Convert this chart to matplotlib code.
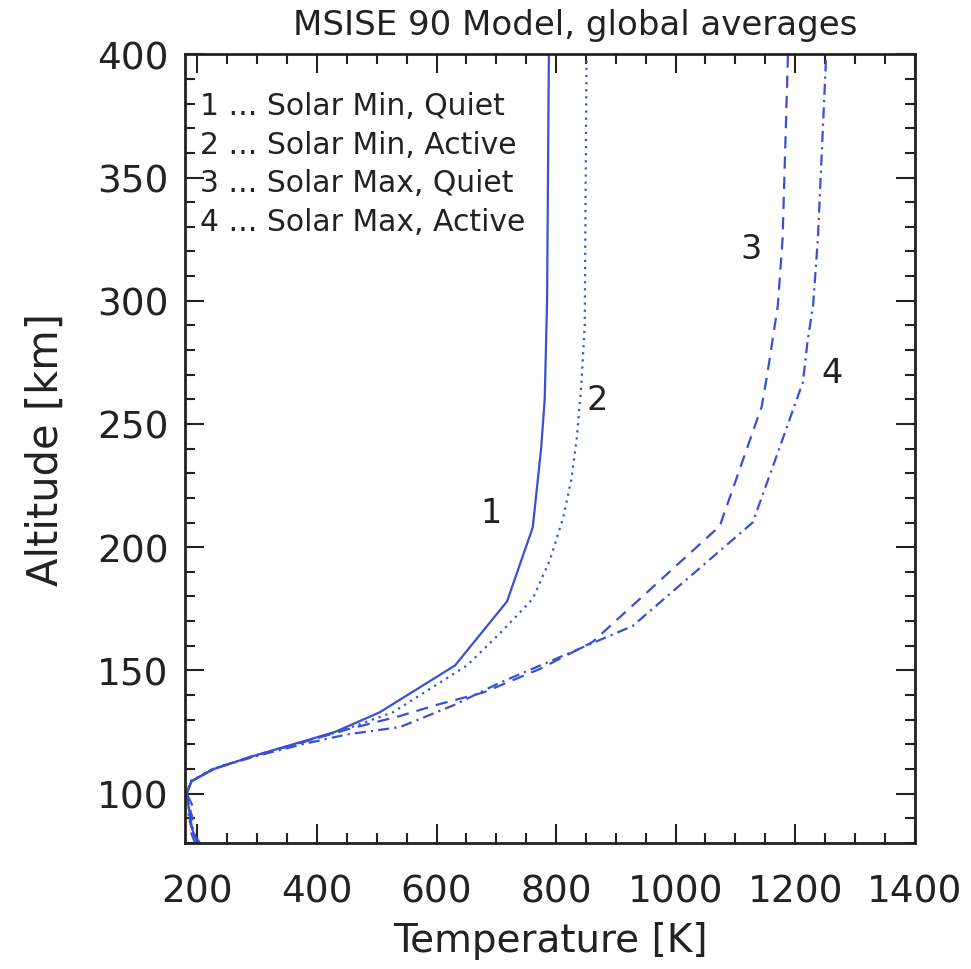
import matplotlib
matplotlib.use("Agg")
import matplotlib.pyplot as plt
from matplotlib.ticker import MultipleLocator

# MSISE-90 global average temperature profiles
alt_1 = [80, 85, 90, 95, 100, 105, 110, 115, 120, 125, 133, 152, 178, 208, 240, 260, 300, 400]
temp_1 = [200, 192, 188, 185, 182, 190, 228, 290, 360, 430, 505, 631, 718, 761, 775, 781, 785, 788]

alt_2 = [80, 85, 90, 95, 100, 105, 110, 115, 120, 125, 133, 152, 165, 179, 195, 212, 228, 245, 265, 290, 400]
temp_2 = [198, 194, 185, 186, 182, 188, 226, 290, 362, 435, 527, 651, 706, 761, 790, 812, 826, 835, 842, 848, 851]

alt_3 = [80, 85, 90, 95, 100, 105, 110, 115, 120, 126, 131.5, 136, 141, 150.6, 161.5, 208.6, 237, 257, 271, 298, 325, 400]
temp_3 = [204, 190, 187, 192, 182, 190, 226, 290, 365, 450, 539, 600, 678, 773, 861, 1074, 1115, 1144, 1154, 1171, 1179, 1188]

alt_4 = [80, 85, 90, 95, 100, 105, 110, 115, 120, 124, 127, 136, 145, 168, 210, 237, 267, 284, 298, 325, 400]
temp_4 = [196, 188, 192, 186, 182, 190, 226, 295, 375, 450, 539, 630, 706, 928, 1129, 1169, 1213, 1221, 1230, 1238, 1252]

legend_lines = ["1 ... Solar Min, Quiet", "2 ... Solar Min, Active",
                "3 ... Solar Max, Quiet", "4 ... Solar Max, Active"]
curve_tags = ["1", "2", "3", "4"]
tag_temp = [692, 868, 1127, 1261]
tag_alt = [214, 260, 321, 271]

blue = "#3a4fd6"
ink = "#222222"

fig = plt.figure(figsize=(9.71, 9.70), dpi=100)
ax = fig.add_axes([0.191, 0.130, 0.751, 0.813])

ax.plot(temp_1, alt_1, color=blue, lw=1.6, linestyle="-")
ax.plot(temp_2, alt_2, color=blue, lw=1.6, linestyle=(0, (1, 2.2)))
ax.plot(temp_3, alt_3, color=blue, lw=1.6, linestyle=(0, (5.5, 3.6)))
ax.plot(temp_4, alt_4, color=blue, lw=1.6, linestyle=(0, (5, 2.3, 1, 2.3)))

for t, x, y in zip(curve_tags, tag_temp, tag_alt):
    ax.text(x, y, t, fontsize=24, ha="center", va="center", color=ink)

for i, line in enumerate(legend_lines):
    ax.text(0.020, 0.935 - i * 0.049, line, transform=ax.transAxes,
            fontsize=21.5, ha="left", va="center", color=ink)

ax.set_xlim(180, 1400)
ax.set_ylim(80, 400)
ax.set_xticks([200, 400, 600, 800, 1000, 1200, 1400])
ax.xaxis.set_minor_locator(MultipleLocator(50))
ax.set_yticks([100, 150, 200, 250, 300, 350, 400])
ax.yaxis.set_minor_locator(MultipleLocator(10))

ax.tick_params(which="both", direction="in", top=True, right=True, width=1.5, colors=ink)
ax.tick_params(which="major", length=14)
ax.tick_params(which="minor", length=7)
ax.tick_params(axis="x", which="major", labelsize=27, pad=22)
ax.tick_params(axis="y", which="major", labelsize=27, pad=12)
for s in ax.spines.values():
    s.set_linewidth(2)
    s.set_color(ink)

ax.set_xlabel("Temperature [K]", fontsize=28, labelpad=8, color=ink)
ax.set_ylabel("Altitude [km]", fontsize=30, labelpad=22, color=ink)
fig.text(0.592, 0.974, "MSISE 90 Model, global averages", fontsize=24.5,
         ha="center", va="center", color=ink)

fig.savefig("out.png", dpi=100)
